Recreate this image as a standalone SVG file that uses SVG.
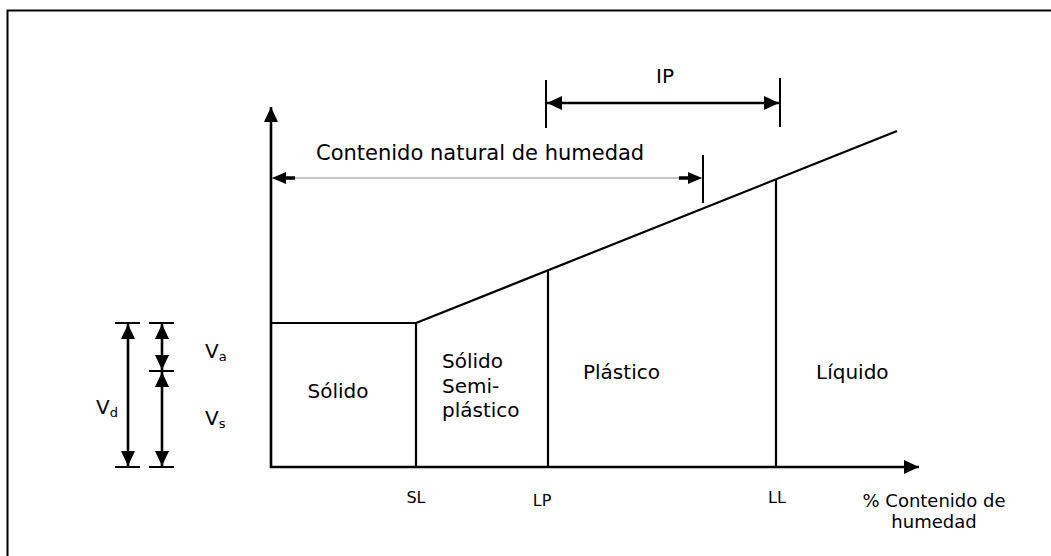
<svg xmlns="http://www.w3.org/2000/svg" width="1051" height="556" viewBox="0 0 1051 556">
<style>
  text { font-family: "DejaVu Sans", Verdana, sans-serif; fill: #000; }
  .lbl { font-size: 20px; }
  .big { font-size: 21px; }
  .ax-lbl { font-size: 16px; }
  .unit { font-size: 18px; }
  .sub { font-size: 13px; }
  .ln { stroke: #000; stroke-width: 2.2; fill: none; }
  .ax { stroke: #000; stroke-width: 2.6; fill: none; }
  .dim { stroke: #000; stroke-width: 2.6; fill: none; }
  .tick { stroke: #000; stroke-width: 2; fill: none; }
  .thin { stroke: #8c8c8c; stroke-width: 1; fill: none; }
</style>
<defs>
  <marker id="ah" markerUnits="userSpaceOnUse" viewBox="0 0 15 14" markerWidth="15" markerHeight="14" refX="15" refY="7" orient="auto-start-reverse">
    <path d="M0,0 L15,7 L0,14 z" fill="#000"/>
  </marker>
  <marker id="ahs" markerUnits="userSpaceOnUse" viewBox="0 0 23 12" markerWidth="23" markerHeight="12" refX="23" refY="6" orient="auto-start-reverse">
    <path d="M9,0 L23,6 L9,12 z M0,4.3 H10 V7.7 H0 z" fill="#000"/>
  </marker>
</defs>

<rect id="frame" x="7.5" y="10.5" width="1060" height="560" fill="none" stroke="#000" stroke-width="2"/>

<g id="connectors">
  <line class="ax" x1="271" y1="468" x2="271" y2="107" marker-end="url(#ah)"/>
  <line class="ax" x1="270" y1="467" x2="919" y2="467" marker-end="url(#ah)"/>
  <line class="tick" x1="546" y1="80" x2="546" y2="128"/>
  <line class="tick" x1="780" y1="78" x2="780" y2="127"/>
  <line class="dim" x1="547" y1="103" x2="779" y2="103" marker-start="url(#ah)" marker-end="url(#ah)"/>
  <line class="tick" x1="703" y1="155" x2="703" y2="203"/>
  <line class="thin" x1="272" y1="178" x2="702" y2="178" marker-start="url(#ahs)" marker-end="url(#ahs)"/>
  <line class="tick" x1="115" y1="323" x2="140" y2="323"/>
  <line class="tick" x1="115" y1="467" x2="140" y2="467"/>
  <line class="dim" x1="128" y1="324" x2="128" y2="466" marker-start="url(#ah)" marker-end="url(#ah)"/>
  <line class="tick" x1="149" y1="323" x2="174" y2="323"/>
  <line class="tick" x1="149" y1="371" x2="174" y2="371"/>
  <line class="tick" x1="149" y1="467" x2="174" y2="467"/>
  <line class="dim" x1="162" y1="324" x2="162" y2="370" marker-start="url(#ah)" marker-end="url(#ah)"/>
  <line class="dim" x1="162" y1="372" x2="162" y2="466" marker-start="url(#ah)" marker-end="url(#ah)"/>
</g>

<g id="solido">
  <polyline class="ln" points="271,323 416,323 416,467"/>
  <text class="lbl" x="338" y="398" text-anchor="middle">Sólido</text>
</g>
<g id="semisolido">
  <line class="ln" x1="416" y1="323" x2="897" y2="131"/>
  <text class="lbl" x="442" y="368">Sólido</text>
  <text class="lbl" x="442" y="393">Semi-</text>
  <text class="lbl" x="442" y="417">plástico</text>
</g>
<g id="plastico">
  <line class="ln" x1="548" y1="270" x2="548" y2="467"/>
  <text class="lbl" x="583" y="379">Plástico</text>
</g>
<g id="liquido">
  <line class="ln" x1="776" y1="179" x2="776" y2="467"/>
  <text class="lbl" x="816" y="379">Líquido</text>
</g>

<g id="labels">
  <text class="lbl" x="665" y="83" text-anchor="middle">IP</text>
  <text class="big" x="316" y="160">Contenido natural de humedad</text>
  <text class="ax-lbl" x="416" y="503" text-anchor="middle">SL</text>
  <text class="ax-lbl" x="542" y="506" text-anchor="middle">LP</text>
  <text class="ax-lbl" x="777" y="503" text-anchor="middle">LL</text>
  <text class="unit" x="934" y="507" text-anchor="middle">% Contenido de</text>
  <text class="unit" x="934" y="528" text-anchor="middle">humedad</text>
  <text class="lbl" x="205" y="358">V<tspan class="sub" dy="3">a</tspan></text>
  <text class="lbl" x="205" y="425">V<tspan class="sub" dy="3">s</tspan></text>
  <text class="lbl" x="96" y="414">V<tspan class="sub" dy="3">d</tspan></text>
</g>
</svg>
